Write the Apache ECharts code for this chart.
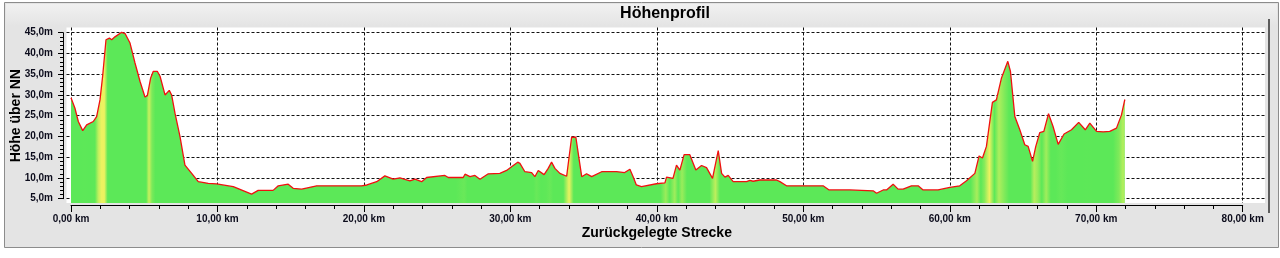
<!DOCTYPE html>
<html>
<head>
<meta charset="utf-8">
<script src="https://cdn.jsdelivr.net/npm/echarts@6/dist/echarts.min.js"></script>
<style>
html,body{margin:0;padding:0;background:#ffffff;}
#chart{width:1280px;height:258px;}
</style>
</head>
<body>
<div id="chart"></div>
<script>
// ---- data ----
const titleText = 'Höhenprofil';
const xName = 'Zurückgelegte Strecke';
const yName = 'Höhe über NN';
const distKm = [
  0.00, 0.27, 0.50, 0.80, 1.07, 1.52, 1.75, 1.98, 2.16, 2.39, 2.62, 2.78, 3.00, 3.46, 3.69, 4.03,
  4.37, 4.71, 5.05, 5.21, 5.44, 5.62, 5.89, 6.08, 6.42, 6.71, 6.87, 7.10, 7.44, 7.78, 8.24, 8.69,
  9.37, 9.94, 11.08, 12.33, 12.78, 13.80, 14.15, 14.83, 15.17, 15.75, 16.77, 19.84, 20.20, 20.87,
  21.43, 22.00, 22.46, 23.14, 23.48, 23.94, 24.28, 25.53, 25.76, 26.78, 26.90, 27.24, 27.58, 27.92,
  28.49, 29.28, 29.74, 30.08, 30.50, 30.65, 30.99, 31.45, 31.67, 31.90, 32.30, 32.58, 32.81, 33.04,
  33.38, 33.84, 34.18, 34.47, 34.70, 34.87, 35.20, 35.55, 36.23, 37.25, 37.80, 38.16, 38.38, 38.60,
  38.95, 39.97, 40.55, 40.66, 41.10, 41.34, 41.57, 41.86, 42.25, 42.66, 43.05, 43.39, 43.80, 44.19,
  44.42, 44.65, 44.87, 45.21, 46.13, 46.35, 46.57, 47.03, 48.17, 48.40, 48.85, 51.35, 51.76, 53.17,
  54.77, 55.00, 55.45, 55.68, 56.13, 56.47, 56.81, 57.38, 57.84, 58.18, 59.20, 60.00, 60.68, 61.14,
  61.71, 62.00, 62.23, 62.50, 62.91, 63.18, 63.53, 63.96, 64.14, 64.44, 64.78, 65.12, 65.35, 65.65,
  65.87, 66.14, 66.42, 66.74, 67.05, 67.40, 67.80, 68.31, 68.80, 69.25, 69.56, 70.02, 70.47, 70.92,
  71.38, 71.72, 71.95
];
const elevM = [
  29.3, 26.8, 23.6, 21.4, 22.8, 23.6, 24.8, 28.8, 34.5, 43.3, 43.7, 43.3, 44.0, 45.1, 44.8, 42.5,
  37.7, 33.3, 29.5, 29.8, 34.1, 35.7, 35.7, 34.5, 30.0, 31.1, 30.0, 25.6, 20.0, 13.1, 11.1, 9.1,
  8.7, 8.55, 7.9, 6.1, 7.0, 7.0, 8.1, 8.5, 7.5, 7.3, 8.1, 8.1, 8.3, 9.1,
  10.5, 9.7, 10.0, 9.3, 9.7, 9.1, 10.1, 10.6, 10.1, 10.1, 10.9, 10.3, 10.6, 9.7,
  11.0, 11.1, 11.8, 12.7, 13.8, 13.5, 11.5, 11.3, 10.3, 11.8, 10.8, 12.3, 13.8, 12.3,
  11.1, 10.4, 19.8, 19.8, 14.3, 10.3, 11.0, 10.3, 11.5, 11.5, 11.3, 12.1, 10.3, 8.3,
  7.9, 8.6, 8.8, 10.2, 9.9, 13.1, 11.9, 15.6, 15.6, 11.9, 13.0, 12.5, 9.9, 16.6,
  11.1, 10.2, 10.6, 9.1, 9.1, 9.4, 9.2, 9.5, 9.5, 9.1, 8.1, 8.1, 7.1, 7.1,
  6.9, 6.3, 7.1, 7.1, 8.5, 7.3, 7.3, 8.1, 8.1, 7.1, 7.1, 7.7, 8.1, 9.3,
  11.1, 15.3, 14.8, 17.6, 28.2, 28.8, 34.1, 38.1, 35.7, 24.8, 21.6, 18.0, 17.6, 14.0,
  17.6, 20.9, 21.2, 25.5, 22.4, 18.1, 20.6, 21.6, 23.4, 21.6, 23.2, 21.2, 21.1, 21.2,
  22.0, 25.2, 28.9
];
const xTicks = [0, 10, 20, 30, 40, 50, 60, 70, 80];
const yTicks = [5, 10, 15, 20, 25, 30, 35, 40, 45];

// ---- styling helpers ----
const GREEN = [92, 232, 88];
const YELLOW = [236, 242, 96];
function mix(t) {
  const c = GREEN.map((g, i) => Math.round(g + (YELLOW[i] - g) * t));
  return 'rgb(' + c.join(',') + ')';
}
// gradient stops: climbs are tinted yellow (soft bands centred on each climbing segment)
const d0 = distKm[0], dN = distKm[distKm.length - 1];
const stops = [{offset: 0, color: mix(0)}];
for (let i = 0; i < distKm.length - 1; i++) {
  const grade = (elevM[i + 1] - elevM[i]) / (distKm[i + 1] - distKm[i]);
  const t = Math.max(0, Math.min(1, (grade - 5) / 18));
  const mid = ((distKm[i] + distKm[i + 1]) / 2 - d0) / (dN - d0);
  stops.push({offset: mid, color: mix(t)});
}
stops.push({offset: 1, color: mix(0.35)});

const seriesData = distKm.map((d, i) => [d, elevM[i]]);
const fmtKm = v => v.toFixed(2).replace('.', ',') + ' km';
const fmtM = v => v.toFixed(1).replace('.', ',') + 'm';
const labelFont = {fontFamily: 'Liberation Sans, Arial, sans-serif', fontWeight: 'bold', fontSize: 10, color: '#0c0c1c'};
const gridDash = {show: true, lineStyle: {color: '#111', width: 1, type: [3, 2]}, showMinLine: false, showMaxLine: false};

const chart = echarts.init(document.getElementById('chart'), null, {renderer: 'canvas'});
chart.setOption({
  animation: false,
  backgroundColor: '#ffffff',
  graphic: [
    {type: 'rect', z: -100, shape: {x: 4.5, y: 2.5, width: 1274, height: 245},
     style: {fill: '#e4e4e4', stroke: '#8c8c8c', lineWidth: 1}},
    {type: 'rect', z: -99, shape: {x: 6, y: 4, width: 1271, height: 22},
     style: {fill: new echarts.graphic.LinearGradient(0, 0, 0, 1, [{offset: 0, color: '#f1f1f1'}, {offset: 1, color: '#e4e4e4'}])}},
    {type: 'rect', z: -98, shape: {x: 1268, y: 19, width: 2, height: 194}, style: {fill: '#5c5c5c'}},
    {type: 'text', z: 10, x: 665, y: 14,
     style: {text: titleText, align: 'center', verticalAlign: 'middle', fill: '#000',
             font: 'bold 16px "Liberation Sans", Arial, sans-serif'}}
  ],
  grid: [
    {left: 66.5, right: 15, top: 27.5, bottom: 55, show: true, backgroundColor: '#ffffff', borderWidth: 0, outerBoundsMode: 'none'},
    {left: 71, right: 37.3, top: 32.7, bottom: 59.3, show: false, outerBoundsMode: 'none'}
  ],
  xAxis: [
    {gridIndex: 0, type: 'value', min: -0.307, max: 81.52, minInterval: 10, maxInterval: 10,
     axisLine: {show: false}, axisTick: {show: false}, axisLabel: {show: false}, splitLine: gridDash},
    {gridIndex: 1, type: 'value', min: xTicks[0], max: xTicks[xTicks.length - 1], interval: 10, offset: 6.3,
     axisLine: {show: true, onZero: false, lineStyle: {color: '#000', width: 1}},
     axisTick: {show: true, length: 7, lineStyle: {color: '#000'}},
     minorTick: {show: true, splitNumber: 5, length: 4, lineStyle: {color: '#000'}},
     axisLabel: Object.assign({margin: 9, formatter: fmtKm}, labelFont),
     splitLine: {show: false},
     name: xName, nameLocation: 'middle', nameGap: 21, nameMoveOverlap: false,
     nameTextStyle: {fontFamily: 'Liberation Sans, Arial, sans-serif', fontWeight: 'bold', fontSize: 14, color: '#000'}}
  ],
  yAxis: [
    {gridIndex: 0, type: 'value', min: 3.96, max: 46.25, minInterval: 5, maxInterval: 5,
     axisLine: {show: false}, axisTick: {show: false}, axisLabel: {show: false}, splitLine: gridDash},
    {gridIndex: 1, type: 'value', min: yTicks[0], max: yTicks[yTicks.length - 1], interval: 5, offset: 8,
     axisLine: {show: true, onZero: false, lineStyle: {color: '#000', width: 1}},
     axisTick: {show: true, length: 5, lineStyle: {color: '#000'}},
     minorTick: {show: true, splitNumber: 5, length: 3, lineStyle: {color: '#000'}},
     axisLabel: Object.assign({margin: 10, formatter: fmtM}, labelFont),
     splitLine: {show: false},
     name: yName, nameLocation: 'middle', nameGap: 40, nameMoveOverlap: false,
     nameTextStyle: {fontFamily: 'Liberation Sans, Arial, sans-serif', fontWeight: 'bold', fontSize: 14, color: '#000'}}
  ],
  series: [{
    type: 'line', xAxisIndex: 0, yAxisIndex: 0, data: seriesData,
    showSymbol: false, smooth: false, clip: true,
    lineStyle: {color: '#f01010', width: 1.3},
    areaStyle: {origin: 'start', opacity: 1,
      color: new echarts.graphic.LinearGradient(0, 0, 1, 0, stops)},
    z: 3
  }]
});
</script>
</body>
</html>
